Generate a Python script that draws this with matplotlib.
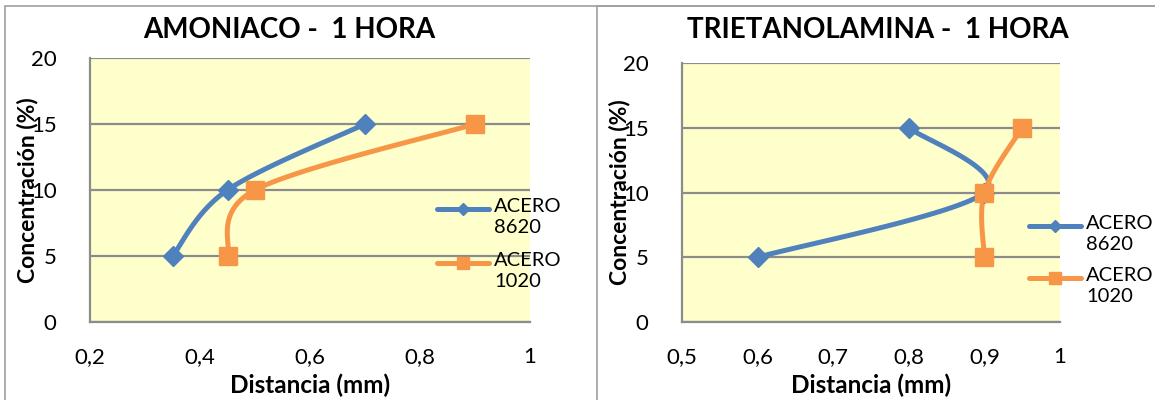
import numpy as np
import matplotlib
matplotlib.use("Agg")
import matplotlib.pyplot as plt
from matplotlib.lines import Line2D
from matplotlib.patches import Rectangle

plt.rcParams["font.family"] = ["Lato", "DejaVu Sans"]

W, H = 1155, 400

# Amoniaco - 1 hora
amon_8620_x = [0.35, 0.45, 0.7]
amon_8620_y = [5, 10, 15]
amon_1020_x = [0.45, 0.5, 0.9]
amon_1020_y = [5, 10, 15]

# Trietanolamina - 1 hora
trie_8620_x = [0.6, 0.9, 0.8]
trie_8620_y = [5, 10, 15]
trie_1020_x = [0.9, 0.9, 0.95]
trie_1020_y = [5, 10, 15]

series_labels = ["ACERO\n8620", "ACERO\n1020"]
BLUE = "#4F81BD"
ORANGE = "#F79646"
GRID = "#8C8C8C"
PLOT_BG = "#FFFFCC"


def px(x, y):
    """pixel (from top-left) -> figure fraction"""
    return x / W, 1 - y / H


def smooth(ax, xs, ys, n=50):
    # Excel-style smoothed line: cubic Bezier through the points, built in screen space
    pts = ax.transData.transform(np.column_stack([xs, ys]))
    m = len(pts)
    t = np.linspace(0, 1, n)[:, None]
    out = []
    for i in range(m - 1):
        p0, p1, p2, p3 = pts[max(i - 1, 0)], pts[i], pts[i + 1], pts[min(i + 2, m - 1)]
        c1 = p1 + (p2 - p0) / 6
        c2 = p2 - (p3 - p1) / 6
        seg = (1 - t) ** 3 * p1 + 3 * (1 - t) ** 2 * t * c1 + 3 * (1 - t) * t ** 2 * c2 + t ** 3 * p2
        out.append(seg if i == 0 else seg[1:])
    xy = ax.transData.inverted().transform(np.vstack(out))
    return xy[:, 0], xy[:, 1]


def panel(frame_x, title_x, ax_px, xlim, xticks, title, data, leg, ylab_x):
    # chart frame (runs off the bottom / right edge)
    fig.add_artist(Rectangle(px(frame_x, 6 + 420), (W + 50) / W, 420 / H,
                             transform=fig.transFigure, fill=False,
                             edgecolor="#A0A0A0", lw=1.2, zorder=0))
    l, t, r, b = ax_px
    ax = fig.add_axes([l / W, 1 - b / H, (r - l) / W, (b - t) / H])
    ax.set_facecolor(PLOT_BG)
    ax.set_xlim(*xlim)
    ax.set_ylim(0, 20)
    ax.set_xticks(xticks)
    ax.set_xticklabels([("%g" % round(v, 2)).replace(".", ",") for v in xticks])
    ax.set_yticks([0, 5, 10, 15, 20])
    ax.tick_params(length=0, labelsize=16, pad=18)
    ax.tick_params(axis="y", pad=24)
    ax.yaxis.grid(True, color=GRID, lw=1.6)
    ax.set_axisbelow(True)
    for s in ("top", "right"):
        ax.spines[s].set_visible(False)
    for s in ("left", "bottom"):
        ax.spines[s].set_color(GRID)
        ax.spines[s].set_linewidth(1.6)

    (bx, by), (ox, oy) = data
    sx, sy = smooth(ax, bx, by)
    ax.plot(sx, sy, color=BLUE, lw=3.6, solid_capstyle="round", zorder=3)
    ax.plot(bx, by, ls="none", marker="D", ms=10, color=BLUE, zorder=4)
    sx, sy = smooth(ax, ox, oy)
    ax.plot(sx, sy, color=ORANGE, lw=3.6, solid_capstyle="round", zorder=3)
    ax.plot(ox, oy, ls="none", marker="s", ms=13, color=ORANGE, zorder=4)

    ax.set_xlabel("Distancia (mm)", fontsize=17.5, fontweight="bold", va="center")
    ax.xaxis.set_label_coords(0.5, 1 - (385 - t) / (b - t))
    ax.set_ylabel("Concentración (%)", fontsize=16.5, fontweight="bold", va="center")
    ax.yaxis.set_label_coords((ylab_x - l) / (r - l), 0.5)

    fig.text(*px(title_x, 30), title, ha="center", va="center",
             fontsize=20, fontweight="bold")

    # legend: handle on the first line of each two-line entry
    lx0, lx1, tx, ly_b, ly_o = leg
    for k, (col, mk, ms, ly) in enumerate([(BLUE, "D", 6, ly_b), (ORANGE, "s", 9, ly_o)]):
        fig.add_artist(Line2D([lx0 / W, lx1 / W], [1 - ly / H] * 2, transform=fig.transFigure,
                              color=col, lw=3.6, solid_capstyle="round"))
        fig.add_artist(Line2D([(lx0 + lx1) / 2 / W], [1 - ly / H], transform=fig.transFigure,
                              color=col, marker=mk, ms=ms, ls="none"))
        fig.text(tx / W, 1 - (ly - 11) / H, series_labels[k], ha="left", va="top",
                 fontsize=14.5, linespacing=1.3)
    return ax


fig = plt.figure(figsize=(W / 100, H / 100), dpi=100)
fig.patch.set_facecolor("white")

panel(5, 289, (90, 58, 530, 322), (0.2, 1.0), [0.2, 0.4, 0.6, 0.8, 1.0],
      "AMONIACO -  1 HORA",
      ((amon_8620_x, amon_8620_y), (amon_1020_x, amon_1020_y)),
      (437, 489, 494, 209, 263), 28)
panel(597, 878, (682, 63, 1060, 322), (0.5, 1.0), [0.5, 0.6, 0.7, 0.8, 0.9, 1.0],
      "TRIETANOLAMINA -  1 HORA",
      ((trie_8620_x, trie_8620_y), (trie_1020_x, trie_1020_y)),
      (1029, 1081, 1086, 226, 278), 620)

fig.savefig("out.png", dpi=100)
